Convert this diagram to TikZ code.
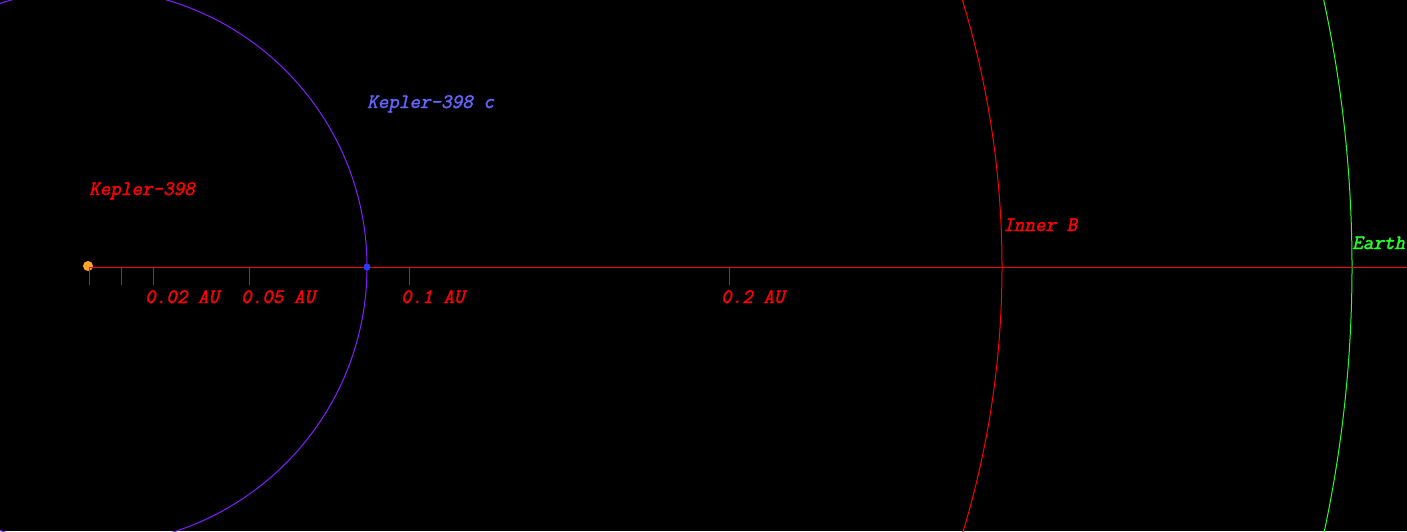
\documentclass[tikz,border=0pt]{standalone}
\usepackage{fontspec}
\newfontfamily\lbfont{Latin Modern Mono}[FakeSlant=0.22, FakeBold=1.8]
\begin{document}
\begin{tikzpicture}[x=1pt,y=-1pt,
  lbl/.style={font=\lbfont\fontsize{20.5}{20.5}\selectfont, anchor=base west, inner sep=0pt},
  tick/.style={draw=red, line width=0.9pt},
  orbit/.style={line width=1pt}]
\definecolor{orbpurple}{RGB}{130,30,255}
\definecolor{lblblue}{RGB}{100,100,255}
\definecolor{dotblue}{RGB}{40,60,255}
\definecolor{starorange}{RGB}{255,165,40}
\definecolor{earthgreen}{RGB}{40,255,40}
\fill[black] (0,0) rectangle (1407,531);
\useasboundingbox (0,0) rectangle (1407,531);
\clip (0,0) rectangle (1407,531);
\coordinate (c0) at (89,267);
\coordinate (axend) at (1407,267);
% orbits
\draw[orbit, orbpurple] (c0) circle[radius=278];
\draw[orbit, red] (c0) circle[radius=913];
\draw[orbit, earthgreen] (c0) circle[radius=1263];
% star
\node[circle, fill=starorange, inner sep=0pt, minimum size=10pt] (star) at (88,266) {};
% axis
\draw[red, line width=0.9pt] (c0) -- (axend);
\foreach \x in {89,121,153,249,409,729} {
  \draw[tick] (\x,267) -- (\x,285);
}
% planet
\node[circle, fill=dotblue, inner sep=0pt, minimum size=7pt] (planet) at (367,267) {};
% labels
\node[lbl, text=red] (lstar) at (89,195) {Kepler-398};
\node[lbl, text=lblblue] (lplanet) at (367,108) {Kepler-398 c};
\node[lbl, text=red] (linner) at (1003,231) {Inner B};
\node[lbl, text=earthgreen] (learth) at (1352,249) {Earth};
\node[lbl, text=red] (t1) at (145,303) {0.02 AU};
\node[lbl, text=red] (t2) at (241,303) {0.05 AU};
\node[lbl, text=red] (t3) at (401,303) {0.1 AU};
\node[lbl, text=red] (t4) at (721,303) {0.2 AU};
\end{tikzpicture}
\end{document}
